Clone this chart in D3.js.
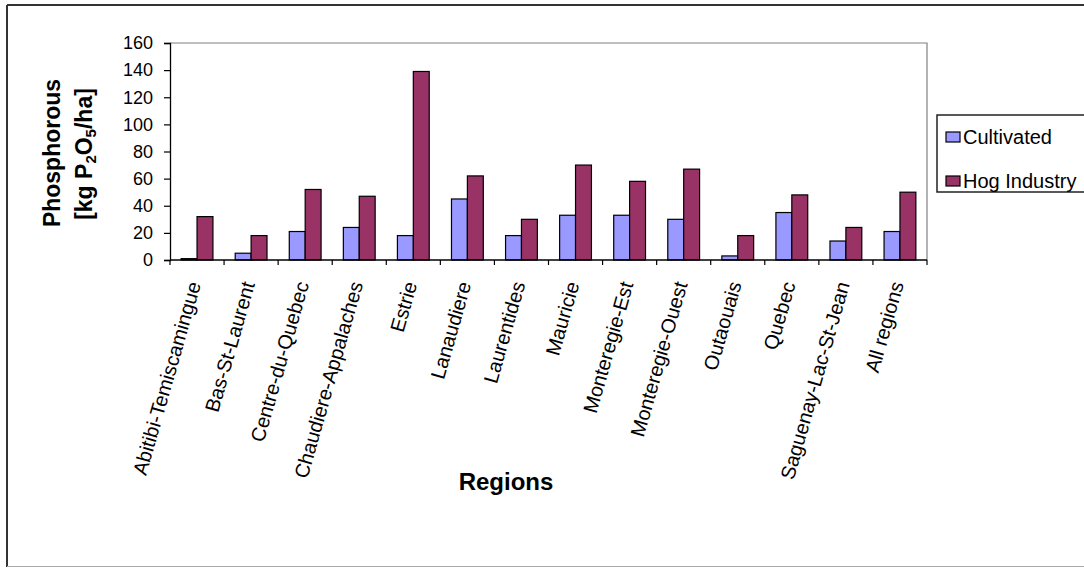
<!DOCTYPE html>
<html>
<head>
<meta charset="utf-8">
<script src="https://cdn.jsdelivr.net/npm/d3@7"></script>
<style>
  html, body { margin: 0; padding: 0; background: #fff; }
  svg { display: block; font-family: "Liberation Sans", Arial, sans-serif; }
</style>
</head>
<body>
<svg id="chart" width="1084" height="568"></svg>
<script>
// Phosphorus loads by region (kg P2O5/ha)
const categories = [
  "Abitibi-Temiscamingue", "Bas-St-Laurent", "Centre-du-Quebec",
  "Chaudiere-Appalaches", "Estrie", "Lanaudiere", "Laurentides",
  "Mauricie", "Monteregie-Est", "Monteregie-Ouest", "Outaouais",
  "Quebec", "Saguenay-Lac-St-Jean", "All regions"
];
const seriesNames = ["Cultivated", "Hog Industry"];
const cultivated = [1, 5, 21, 24, 18, 45, 18, 33, 33, 30, 3, 35, 14, 21];
const hogIndustry = [32, 18, 52, 47, 139, 62, 30, 70, 58, 67, 18, 48, 24, 50];
const yTicks = [0, 20, 40, 60, 80, 100, 120, 140, 160];
const colors = ["#9999FF", "#993366"];

const svg = d3.select("#chart");

// Outer chart frame
svg.append("line").attr("x1", 7).attr("y1", 5).attr("x2", 7).attr("y2", 567)
  .attr("stroke", "#333").attr("stroke-width", 2);
svg.append("line").attr("x1", 7).attr("y1", 5).attr("x2", 1084).attr("y2", 5)
  .attr("stroke", "#333").attr("stroke-width", 2);
svg.append("line").attr("x1", 7).attr("y1", 566.5).attr("x2", 1084).attr("y2", 566.5)
  .attr("stroke", "#aaa").attr("stroke-width", 1);

const plot = { left: 170, right: 927, top: 43, bottom: 260 };

const x = d3.scaleBand().domain(categories).range([plot.left, plot.right]).padding(0);
const y = d3.scaleLinear().domain([0, 160]).range([plot.bottom, plot.top]);

// Plot area border (top and right)
svg.append("path")
  .attr("d", `M${plot.left},${plot.top}H${plot.right}V${plot.bottom}`)
  .attr("fill", "none").attr("stroke", "#808080").attr("stroke-width", 1.2);

// Bars: gap width 70% of the bar group
const groupW = x.bandwidth() / 1.7;
const barW = groupW / 2;
const series = [cultivated, hogIndustry];

series.forEach((vals, si) => {
  svg.append("g").selectAll("rect")
    .data(categories.map((c, i) => ({ c, v: vals[i] })))
    .join("rect")
    .attr("x", d => x(d.c) + (x.bandwidth() - groupW) / 2 + si * barW)
    .attr("y", d => y(d.v))
    .attr("width", barW)
    .attr("height", d => y(0) - y(d.v))
    .attr("fill", colors[si])
    .attr("stroke", "#000")
    .attr("stroke-width", 1.2);
});

// Y axis
const yAxis = svg.append("g")
  .attr("transform", `translate(${plot.left},0)`)
  .call(d3.axisLeft(y).tickValues(yTicks).tickSize(6).tickPadding(11).tickFormat(d3.format("d")));
yAxis.select(".domain").attr("stroke", "#000").attr("stroke-width", 1.3);
yAxis.selectAll(".tick line").attr("stroke", "#000").attr("stroke-width", 1.2);
yAxis.selectAll(".tick text")
  .attr("font-family", "Liberation Sans, Arial, sans-serif")
  .attr("font-size", 18).attr("fill", "#000");

// X axis: ticks at category boundaries
svg.append("line")
  .attr("x1", plot.left).attr("x2", plot.right)
  .attr("y1", plot.bottom).attr("y2", plot.bottom)
  .attr("stroke", "#000").attr("stroke-width", 1.3);
const boundaries = categories.map(c => x(c)).concat([x(categories[categories.length - 1]) + x.bandwidth()]);
svg.append("g").selectAll("line")
  .data(boundaries)
  .join("line")
  .attr("x1", d => d).attr("x2", d => d)
  .attr("y1", plot.bottom).attr("y2", plot.bottom + 5)
  .attr("stroke", "#000").attr("stroke-width", 1.2);

// Slanted category labels
svg.append("g").selectAll("text")
  .data(categories)
  .join("text")
  .attr("transform", d => `translate(${x(d) + x.bandwidth() / 2 + 4},284) rotate(-74)`)
  .attr("text-anchor", "end")
  .attr("font-size", 20)
  .attr("fill", "#000")
  .text(d => d);

// Axis titles
svg.append("text")
  .attr("x", 506).attr("y", 490)
  .attr("text-anchor", "middle")
  .attr("font-size", 24).attr("font-weight", "bold")
  .text("Regions");

const yTitle = svg.append("text")
  .attr("transform", "translate(60,153) rotate(-90)")
  .attr("text-anchor", "middle")
  .attr("font-size", 23).attr("font-weight", "bold");
yTitle.append("tspan").attr("x", 0).attr("dy", 0).text("Phosphorous");

const yTitle2 = svg.append("text")
  .attr("transform", "translate(92,154) rotate(-90)")
  .attr("text-anchor", "middle")
  .attr("font-size", 23).attr("font-weight", "bold");
yTitle2.append("tspan").text("[kg P");
yTitle2.append("tspan").attr("font-size", 15).attr("dy", 4).text("2");
yTitle2.append("tspan").attr("dy", -4).text("O");
yTitle2.append("tspan").attr("font-size", 15).attr("dy", 4).text("5");
yTitle2.append("tspan").attr("dy", -4).text("/ha]");

// Legend
const legend = svg.append("g");
legend.append("rect")
  .attr("x", 937).attr("y", 115).attr("width", 170).attr("height", 77)
  .attr("fill", "#fff").attr("stroke", "#222").attr("stroke-width", 1.5);
seriesNames.forEach((name, i) => {
  const cy = 137 + i * 44;
  legend.append("rect")
    .attr("x", 946).attr("y", cy - 5).attr("width", 14).attr("height", 10)
    .attr("fill", colors[i]).attr("stroke", "#000").attr("stroke-width", 1.2);
  legend.append("text")
    .attr("x", 963).attr("y", cy + 7)
    .attr("font-size", 20).attr("fill", "#000")
    .text(name);
});
</script>
</body>
</html>
